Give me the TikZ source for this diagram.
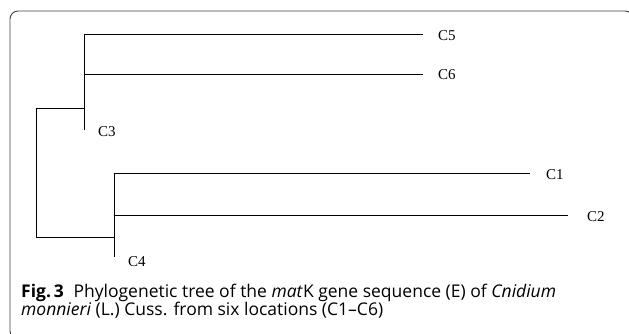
\documentclass[tikz,border=0pt]{standalone}
\usepackage{fontspec}
\newfontfamily\treefont{Liberation Serif}
\newfontfamily\capfont[Ligatures=TeX]{Open Sans}
\begin{document}
\begin{tikzpicture}[x=1pt,y=-1pt,
  branch/.style={draw=black, line width=0.8pt},
  leaf/.style={anchor=west, inner sep=0pt, font=\treefont\fontsize{15}{16}\selectfont},
  frame/.style={draw=black!75, line width=0.9pt, rounded corners=8pt},
  captxt/.style={anchor=base west, inner sep=0pt, font=\capfont\fontsize{17.5}{18}\selectfont}]
\useasboundingbox (0,0) rectangle (629,333);
\begin{scope}
\clip (0,0) rectangle (629,333);
\draw[frame] (10,11) rectangle (633,339);
\end{scope}
% internal nodes
\coordinate (r1) at (36,108);
\coordinate (r2) at (36,237);
\coordinate (u) at (84,108);
\coordinate (u5) at (84,34);
\coordinate (u6) at (84,74);
\coordinate (u3) at (84,130);
\coordinate (l) at (114,237);
\coordinate (l1) at (114,173);
\coordinate (l2) at (114,215);
\coordinate (l4) at (114,257);
\coordinate (e5) at (423,34);
\coordinate (e6) at (423,74);
\coordinate (e1) at (530,173);
\coordinate (e2) at (568,215);
% leaves
\node[leaf] (C5) at (438,36) {C5};
\node[leaf] (C6) at (438,75) {C6};
\node[leaf] (C3) at (98,132) {C3};
\node[leaf] (C1) at (546,175) {C1};
\node[leaf] (C2) at (587,217) {C2};
\node[leaf] (C4) at (128,262) {C4};
% branches
\draw[branch] (u) -- (r1) -- (r2) -- (l);
\draw[branch] (u5) -- (u3);
\draw[branch] (u5) -- (e5);
\draw[branch] (u6) -- (e6);
\draw[branch] (l1) -- (l4);
\draw[branch] (l1) -- (e1);
\draw[branch] (l2) -- (e2);
% caption
\node[captxt] (cap1) at (21,297)
  {\textbf{Fig.\,3}\hspace{0.55em}Phylogenetic tree of the \textit{mat}K gene sequence (E) of \textit{Cnidium}};
\node[captxt] (cap2) at (21,315)
  {\textit{monnieri} (L.) Cuss. from six locations (C1--C6)};
\end{tikzpicture}
\end{document}
